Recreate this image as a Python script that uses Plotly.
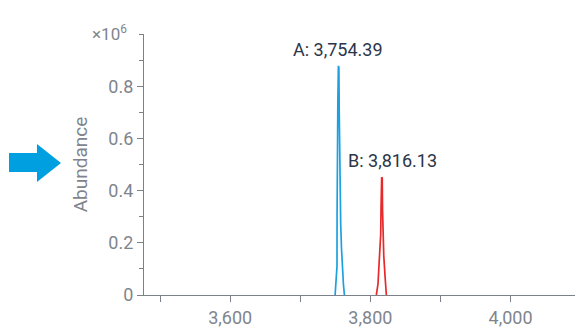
import plotly.graph_objects as go

# Peak profiles: m/z offsets from each labelled apex and abundance (×10^6)
peak_a_mz = 3754.39
peak_a_dx = [-4.7, -3.6, -3.3, -2.0, -1.9, -1.7, -1.5, -0.8, 0.0, 0.7, 1.1, 1.6, 2.3, 3.3, 4.4, 5.3, 5.7, 7.2, 8.6]
peak_a_y = [0.0, 0.06, 0.09, 0.11, 0.30, 0.47, 0.60, 0.74, 0.878, 0.87, 0.72, 0.55, 0.40, 0.27, 0.18, 0.12, 0.08, 0.04, 0.0]

peak_b_mz = 3816.13
peak_b_dx = [-7.6, -5.2, -4.5, -2.9, -1.4, -0.9, -0.4, 0.0, 0.8, 1.2, 1.5, 2.0, 3.0, 4.7, 6.7]
peak_b_y = [0.0, 0.043, 0.08, 0.173, 0.231, 0.33, 0.42, 0.451, 0.448, 0.33, 0.26, 0.22, 0.15, 0.077, 0.0]

label_a = "A: 3,754.39"
label_b = "B: 3,816.13"

x_ticks = [3600, 3800, 4000]
x_minor = [3500, 3700, 3900]
y_ticks = [0, 0.2, 0.4, 0.6, 0.8]

BLUE = "#1ba1df"
RED = "#e8292a"
AXIS = "#7b8089"
TEXT = "#2b3648"
GREY_TEXT = "#7f858d"

W, H = 581, 328
ML, MR, MT, MB = 144, 6, 34, 33

fig = go.Figure()
fig.add_trace(go.Scatter(
    x=[peak_a_mz + d for d in peak_a_dx], y=peak_a_y,
    mode="lines", line=dict(color=BLUE, width=1.7), hoverinfo="skip"))
fig.add_trace(go.Scatter(
    x=[peak_b_mz + d for d in peak_b_dx], y=peak_b_y,
    mode="lines", line=dict(color=RED, width=1.7), hoverinfo="skip"))

fig.add_annotation(x=peak_a_mz - 1, y=max(peak_a_y), text=label_a, showarrow=False,
                   yanchor="bottom", yshift=4, font=dict(family="Roboto", size=18, color=TEXT))
fig.add_annotation(x=peak_b_mz + 16, y=max(peak_b_y), text=label_b, showarrow=False,
                   yanchor="bottom", yshift=4, font=dict(family="Roboto", size=18, color=TEXT))

# Exponent marker at the top of the y axis
fig.add_annotation(xref="paper", yref="paper", x=-0.035, y=1.005, xanchor="right", yanchor="middle",
                   text="×10<sup>6</sup>", showarrow=False,
                   font=dict(family="Roboto", size=17, color=GREY_TEXT))

# Blue pointer arrow left of the axis (pixel geometry converted to paper coords)
pw, ph = W - ML - MR, H - MT - MB
def px(x):
    return (x - ML) / pw
def py(y):
    return (H - MB - y) / ph
arrow_pts = [(9, 153), (37, 153), (37, 144), (61, 163), (37, 182), (37, 172), (9, 172)]
path = "M " + " L ".join(f"{px(a):.4f},{py(b):.4f}" for a, b in arrow_pts) + " Z"
fig.add_shape(type="path", path=path, xref="paper", yref="paper",
              fillcolor="#00a0e0", line=dict(width=0), layer="above")

fig.update_layout(
    width=W, height=H, margin=dict(l=ML, r=MR, t=MT, b=MB, autoexpand=False),
    plot_bgcolor="white", paper_bgcolor="white", showlegend=False,
    font=dict(family="Roboto", color=GREY_TEXT),
)
fig.update_xaxes(
    range=[3477, 4092], tickvals=x_ticks, ticktext=[f"{v:,}" for v in x_ticks],
    showgrid=False, zeroline=False, showline=True, linecolor=AXIS, linewidth=1.3,
    ticks="outside", ticklen=6, tickcolor=AXIS, tickfont=dict(size=18, color=GREY_TEXT),
    minor=dict(tickvals=x_minor, ticks="outside", ticklen=6, tickcolor=AXIS),
    automargin=False,
)
fig.update_yaxes(
    range=[0, 1.0], tickvals=y_ticks, ticktext=["0", "0.2", "0.4", "0.6", "0.8"],
    showgrid=False, zeroline=False, showline=True, linecolor=AXIS, linewidth=1.3,
    ticks="outside", ticklen=6, tickcolor=AXIS, tickfont=dict(size=18, color=GREY_TEXT),
    minor=dict(dtick=0.1, ticks="outside", ticklen=4, tickcolor=AXIS),
    title=dict(text="Abundance", font=dict(size=19, color=GREY_TEXT), standoff=15),
    automargin=False,
)

fig.write_html("out.html")
